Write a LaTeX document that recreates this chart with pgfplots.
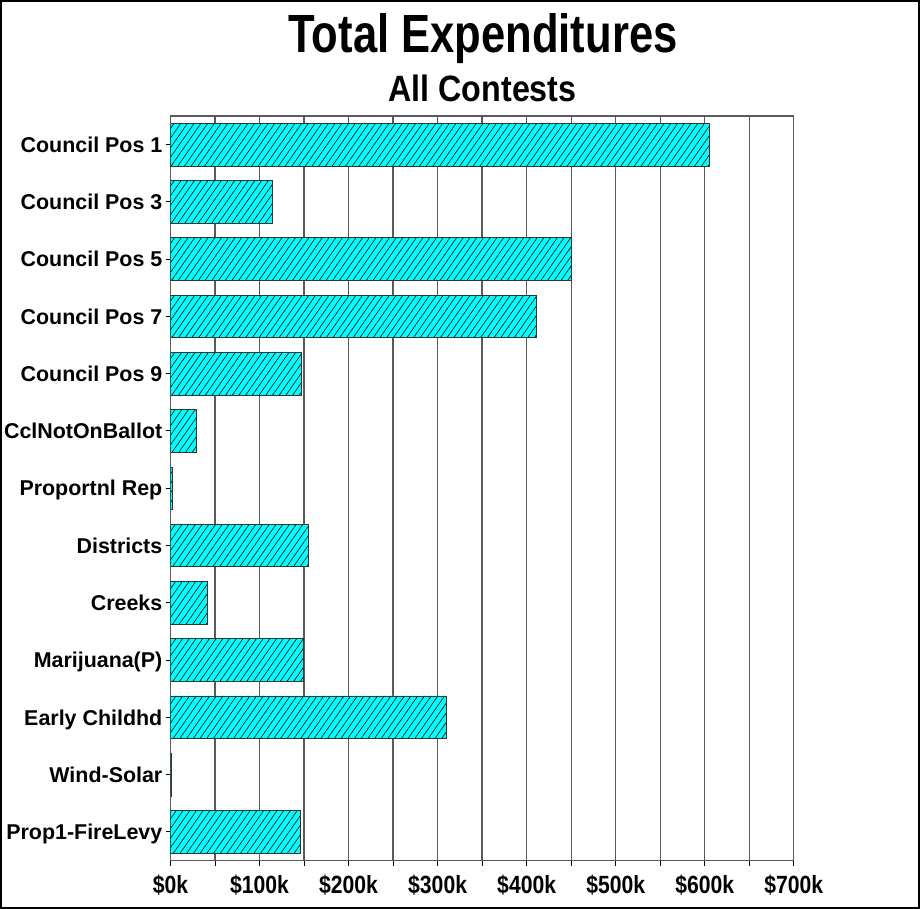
\documentclass[border=0pt]{standalone}
\usepackage{pgfplots}
\pgfplotsset{compat=1.18}
\usetikzlibrary{patterns.meta}
\usepackage{fontspec}
\setmainfont{Liberation Sans}
\newfontfamily\titlefont{Liberation Sans}[FakeStretch=0.81]
\newfontfamily\subfont{Liberation Sans}[FakeStretch=0.88]
\newfontfamily\xlabfont{Liberation Sans}[FakeStretch=0.85]
\definecolor{barcyan}{HTML}{00FFFF}
\definecolor{gridgray}{HTML}{5A5A5A}
\begin{document}
\begin{tikzpicture}
\useasboundingbox (0,0) rectangle (920bp,909bp);
\draw[line width=2bp] (1bp,1bp) rectangle (919bp,908bp);
\node[anchor=base, inner sep=0pt, font=\titlefont\bfseries\fontsize{54}{60}\selectfont] at (483bp,856.3bp) {Total Expenditures};
\node[anchor=base, inner sep=0pt, font=\subfont\bfseries\fontsize{36.8}{40}\selectfont] at (482.5bp,807.3bp) {All Contests};
\begin{axis}[
  at={(170.5bp,48.5bp)}, anchor=south west,
  scale only axis, width=623.3bp, height=744.5bp,
  xmin=0, xmax=700, ymin=-0.5, ymax=12.5, y dir=reverse,
  ytick={0,1,2,3,4,5,6,7,8,9,10,11,12},
  yticklabels={Council Pos 1,Council Pos 3,Council Pos 5,Council Pos 7,Council Pos 9,CclNotOnBallot,Proportnl Rep,Districts,Creeks,Marijuana(P),Early Childhd,Wind-Solar,Prop1-FireLevy},
  xtick={0,50,100,150,200,250,300,350,400,450,500,550,600,650,700},
  xticklabels={\$0k,,\$100k,,\$200k,,\$300k,,\$400k,,\$500k,,\$600k,,\$700k},
  xmajorgrids, major grid style={gridgray, line width=1.3bp},
  axis line style={gridgray, line width=1.3bp},
  tick align=outside, tick pos=left, major tick length=5bp,
  tick style={black, line width=1bp},
  xticklabel style={font=\xlabfont\bfseries\fontsize{25}{25}\selectfont, anchor=base, inner sep=0pt, yshift=-28bp},
  yticklabel style={font=\bfseries\fontsize{21.5}{22}\selectfont, anchor=base east, inner sep=0pt, yshift=-7.7bp, xshift=-3bp},
]
\addplot[xbar, bar width=42.7bp, fill=barcyan, draw=black!80, line width=0.8bp,
  postaction={pattern={Lines[angle=55,distance=5.5bp,line width=0.6bp]}, pattern color=black}]
  coordinates {(605,0) (114.5,1) (450,2) (411,3) (147,4) (29.4,5) (2,6) (154.5,7) (41,8) (149,9) (310,10) (1.5,11) (146,12)};
\end{axis}
\end{tikzpicture}
\end{document}
